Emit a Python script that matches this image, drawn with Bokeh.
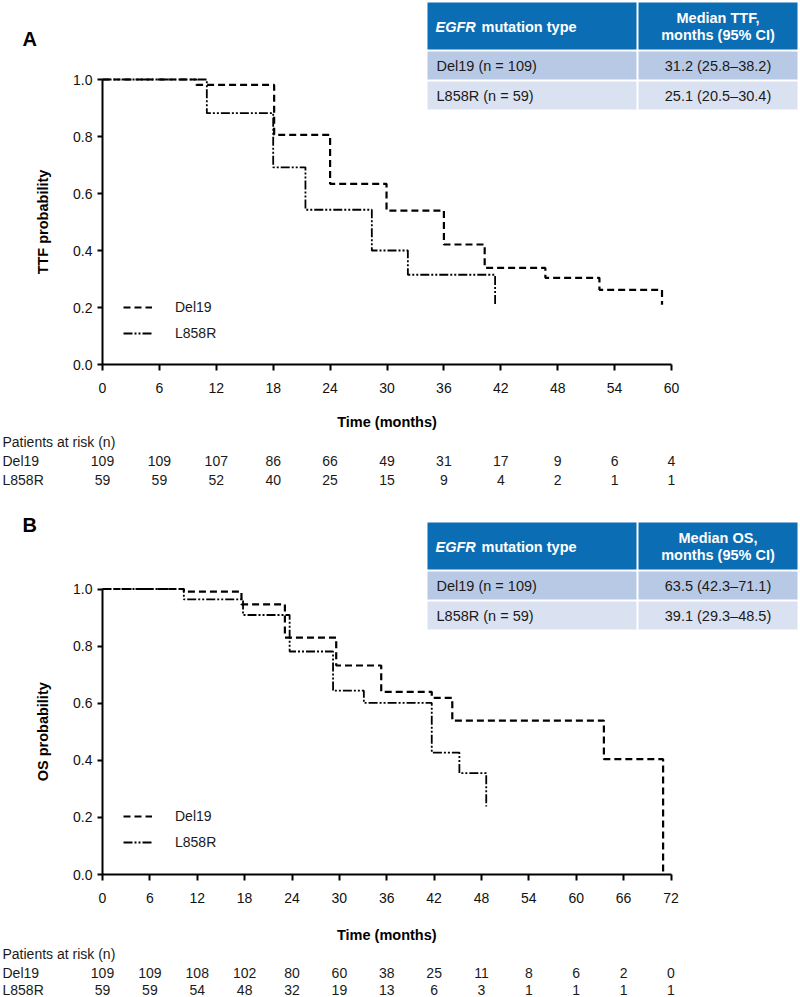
import math
from bokeh.plotting import figure
from bokeh.models import (Range1d, FixedTicker, PrintfTickFormatter, Legend, LegendItem,
                          LinearAxis, Grid)
from bokeh.embed import file_html
from bokeh.resources import INLINE
from bokeh.core.properties import value

FONT = "Liberation Sans"

# ---------------- data: panel A (TTF) ----------------
ttf_del19_months = [0, 9.9, 18.1, 24.0, 29.95, 36.0, 40.3, 46.7, 52.4, 59.0]
ttf_del19_prob = [1.0, 0.981, 0.806, 0.634, 0.540, 0.421, 0.339, 0.304, 0.262, 0.210]
ttf_l858r_months = [0, 11.0, 18.0, 21.4, 28.4, 32.2, 41.4]
ttf_l858r_prob = [1.0, 0.882, 0.692, 0.543, 0.400, 0.315, 0.207]
ttf_ticks = [0, 6, 12, 18, 24, 30, 36, 42, 48, 54, 60]
ttf_risk_del19 = [109, 109, 107, 86, 66, 49, 31, 17, 9, 6, 4]
ttf_risk_l858r = [59, 59, 52, 40, 25, 15, 9, 4, 2, 1, 1]
ttf_table_groups = ["Del19 (n = 109)", "L858R (n = 59)"]
ttf_table_medians = ["31.2 (25.8\u201338.2)", "25.1 (20.5\u201330.4)"]
ttf_table_header = ["Median TTF,", "months (95% CI)"]

# ---------------- data: panel B (OS) ----------------
os_del19_months = [0, 10.3, 17.6, 23.1, 29.6, 35.3, 41.7, 44.3, 63.5, 71.0]
os_del19_prob = [1.0, 0.991, 0.946, 0.830, 0.732, 0.640, 0.619, 0.539, 0.404, 0.0]
os_l858r_months = [0, 10.3, 17.8, 23.7, 29.2, 33.1, 41.7, 45.2, 48.6]
os_l858r_prob = [1.0, 0.964, 0.909, 0.781, 0.644, 0.601, 0.427, 0.355, 0.238]
os_ticks = [0, 6, 12, 18, 24, 30, 36, 42, 48, 54, 60, 66, 72]
os_risk_del19 = [109, 109, 108, 102, 80, 60, 38, 25, 11, 8, 6, 2, 0]
os_risk_l858r = [59, 59, 54, 48, 32, 19, 13, 6, 3, 1, 1, 1, 1]
os_table_groups = ["Del19 (n = 109)", "L858R (n = 59)"]
os_table_medians = ["63.5 (42.3\u201371.1)", "39.1 (29.3\u201348.5)"]
os_table_header = ["Median OS,", "months (95% CI)"]

y_ticks = [0.0, 0.2, 0.4, 0.6, 0.8, 1.0]
group_names = ["Del19", "L858R"]
risk_header = "Patients at risk (n)"
x_title = "Time (months)"

HDR_BLUE = "#0b6db4"
ROW1 = "#b8c9e6"
ROW2 = "#dae2f1"
TXT = "#1a1a1a"

# ---------------- canvas geometry (pixels from the canvas top-left) ----------------
CV_W, CV_H = 800, 997
AX_X0 = 102

GEOM_A = dict(xs=(671 - AX_X0) / 60.0, y_one=79.0, y_zero=364.0)
GEOM_B = dict(xs=(670.5 - AX_X0) / 72.0, y_one=588.5, y_zero=874.0)


def mk_dx(g):
    return lambda px: (px - AX_X0) / g["xs"]


def mk_dy(g):
    return lambda py: (g["y_zero"] - py) / (g["y_zero"] - g["y_one"])


dxA, dyA = mk_dx(GEOM_A), mk_dy(GEOM_A)
dxB, dyB = mk_dx(GEOM_B), mk_dy(GEOM_B)

p = figure(width=CV_W, height=CV_H,
           x_range=Range1d(dxA(0), dxA(CV_W)),
           y_range=Range1d(dyA(CV_H), dyA(0)),
           x_axis_location=None, y_axis_location=None,
           output_backend="svg", toolbar_location=None, min_border=0)
p.extra_x_ranges = {"xB": Range1d(dxB(0), dxB(CV_W))}
p.extra_y_ranges = {"yB": Range1d(dyB(CV_H), dyB(0))}
p.outline_line_color = None
p.background_fill_color = "white"
p.border_fill_color = "white"
for r in list(p.center):
    if isinstance(r, Grid):
        r.visible = False


def style_axis(ax, tick_out, standoff):
    ax.axis_line_width = 2
    ax.axis_line_color = "black"
    ax.major_tick_line_width = 2
    ax.major_tick_line_color = "black"
    ax.major_tick_in = 0
    ax.major_tick_out = tick_out
    ax.minor_tick_line_color = None
    ax.major_label_standoff = standoff
    ax.major_label_text_font = FONT
    ax.major_label_text_font_size = "14px"
    ax.major_label_text_color = "#111111"


def txt(rk, x, y, text, size="14px", style="normal", color=TXT, align="left", angle=0):
    p.text(x=x, y=y, text=text, text_font=value(FONT), text_font_size=size,
           text_font_style=style, text_color=color, text_align=align,
           text_baseline="middle", angle=angle, **rk)


def panel(dx, dy, rk, ticks, d_t, d_s, l_t, l_s, letter, letter_y, ylabel, xlabel_y,
          tbl, header2, groups, medians, risk_rows, risk_del, risk_l, legend_bottom):
    # axes fixed at the data origin
    xa = LinearAxis(fixed_location=0, ticker=FixedTicker(ticks=ticks), bounds=(0, ticks[-1]), **rk)
    style_axis(xa, 6, 12)
    p.add_layout(xa, "below")
    ya = LinearAxis(fixed_location=0, ticker=FixedTicker(ticks=y_ticks), bounds=(0, 1),
                    formatter=PrintfTickFormatter(format="%.1f"), **rk)
    style_axis(ya, 5, 5)
    p.add_layout(ya, "left")

    r1 = p.step(d_t, d_s, mode="after", line_color="black", line_width=2.2,
                line_dash="7 4", **rk)
    r2 = p.step(l_t, l_s, mode="after", line_color="black", line_width=1.8,
                line_dash="9 2 2 2 2 2", **rk)

    leg = Legend(items=[LegendItem(label=group_names[0], renderers=[r1]),
                        LegendItem(label=group_names[1], renderers=[r2])],
                 location=(123, CV_H - legend_bottom),
                 glyph_width=29, glyph_height=20, label_height=20,
                 spacing=6, label_standoff=23, padding=0, margin=0,
                 border_line_color=None, background_fill_alpha=0,
                 label_text_font=FONT, label_text_font_size="14px", label_text_color=TXT)
    p.add_layout(leg)

    # summary table
    h_top, h_bot, a_top, a_bot, b_top, b_bot = tbl
    c1l, c1r, c2l, c2r = 427, 636, 638, 797
    p.quad(left=[dx(c1l), dx(c2l), dx(c1l), dx(c2l), dx(c1l), dx(c2l)],
           right=[dx(c1r), dx(c2r), dx(c1r), dx(c2r), dx(c1r), dx(c2r)],
           top=[dy(h_top), dy(h_top), dy(a_top), dy(a_top), dy(b_top), dy(b_top)],
           bottom=[dy(h_bot), dy(h_bot), dy(a_bot), dy(a_bot), dy(b_bot), dy(b_bot)],
           fill_color=[HDR_BLUE, HDR_BLUE, ROW1, ROW1, ROW2, ROW2], line_color=None, **rk)
    hmid = (h_top + h_bot) / 2
    c2c = (c2l + c2r) / 2
    txt(rk, [dx(435)], [dy(hmid + 1)], ["EGFR"], "14.5px", "bold italic", "white")
    txt(rk, [dx(481)], [dy(hmid + 1)], ["mutation type"], "14.5px", "bold", "white")
    txt(rk, [dx(c2c), dx(c2c)], [dy(hmid - 8), dy(hmid + 9)], header2,
        "14.5px", "bold", "white", "center")
    amid = (a_top + a_bot) / 2
    bmid = (b_top + b_bot) / 2
    txt(rk, [dx(436), dx(436)], [dy(amid), dy(bmid)], groups, "14.5px")
    txt(rk, [dx(c2c), dx(c2c)], [dy(amid), dy(bmid)], medians, "14.5px", align="center")

    # letter and axis titles
    txt(rk, [dx(22)], [dy(letter_y)], [letter], "20px", "bold", "black")
    txt(rk, [dx(42)], [0.5], [ylabel], "14.5px", "bold", "black", "center", math.pi / 2)
    txt(rk, [ticks[-1] / 2], [dy(xlabel_y)], [x_title], "14.5px", "bold", "black", "center")

    # patients at risk
    r0, ra, rb = risk_rows
    xl = dx(2)
    txt(rk, [xl, xl, xl], [dy(r0), dy(ra), dy(rb)], [risk_header] + group_names)
    txt(rk, ticks, [dy(ra)] * len(ticks), [str(v) for v in risk_del], align="center")
    txt(rk, ticks, [dy(rb)] * len(ticks), [str(v) for v in risk_l], align="center")


panel(dxA, dyA, {}, ttf_ticks, ttf_del19_months, ttf_del19_prob,
      ttf_l858r_months, ttf_l858r_prob, "A", 38, "TTF probability", 421,
      (2, 49, 51, 79, 81, 109), ttf_table_header, ttf_table_groups, ttf_table_medians,
      (441, 460, 479), ttf_risk_del19, ttf_risk_l858r, 343)

panel(dxB, dyB, dict(x_range_name="xB", y_range_name="yB"), os_ticks,
      os_del19_months, os_del19_prob, os_l858r_months, os_l858r_prob,
      "B", 524, "OS probability", 934,
      (522, 569, 571, 599, 601, 629), os_table_header, os_table_groups, os_table_medians,
      (953, 972, 989), os_risk_del19, os_risk_l858r, 852)

open("out.html", "w").write(file_html(p, INLINE))
